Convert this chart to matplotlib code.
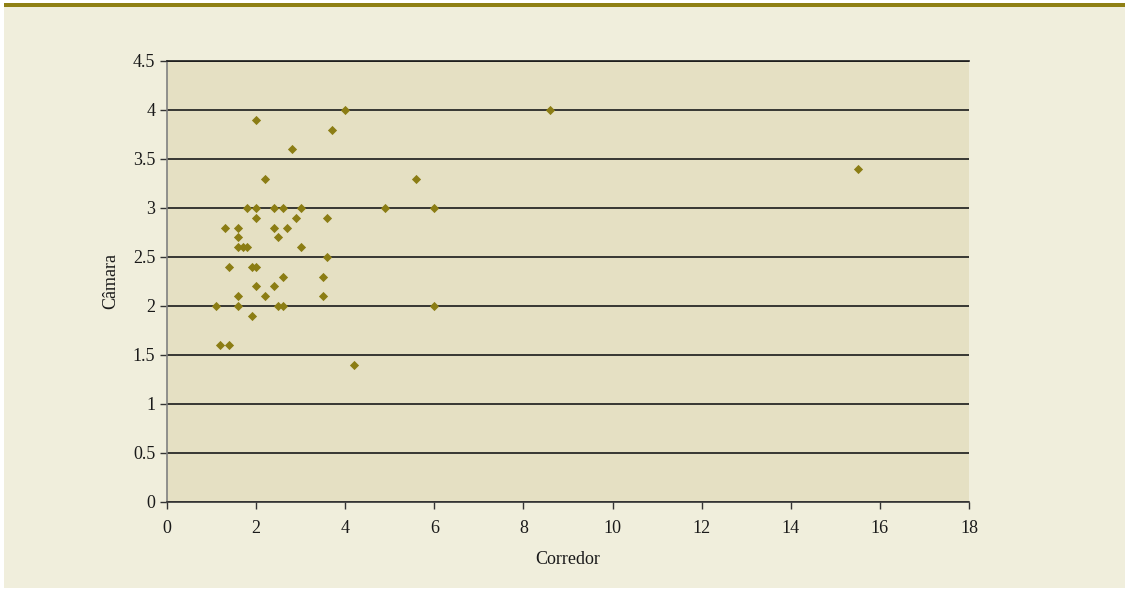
import matplotlib.pyplot as plt
from matplotlib.patches import Rectangle

# Corredor vs Câmara values
corredor = [
    2.0, 4.0, 3.7, 2.8, 2.2, 5.6, 8.6, 15.5,
    1.8, 2.0, 2.4, 2.6, 3.0, 4.9, 6.0,
    2.0, 2.9, 3.6,
    1.3, 1.6, 2.4, 2.7,
    1.6, 2.5,
    1.6, 1.7, 1.8, 3.0,
    3.6,
    1.4, 1.9, 2.0,
    2.6, 3.5,
    2.0, 2.4,
    1.6, 2.2, 3.5,
    1.1, 1.6, 2.5, 2.6, 6.0,
    1.9,
    1.2, 1.4,
    4.2,
]
camara = [
    3.9, 4.0, 3.8, 3.6, 3.3, 3.3, 4.0, 3.4,
    3.0, 3.0, 3.0, 3.0, 3.0, 3.0, 3.0,
    2.9, 2.9, 2.9,
    2.8, 2.8, 2.8, 2.8,
    2.7, 2.7,
    2.6, 2.6, 2.6, 2.6,
    2.5,
    2.4, 2.4, 2.4,
    2.3, 2.3,
    2.2, 2.2,
    2.1, 2.1, 2.1,
    2.0, 2.0, 2.0, 2.0, 2.0,
    1.9,
    1.6, 1.6,
    1.4,
]

x_ticks = [0, 2, 4, 6, 8, 10, 12, 14, 16, 18]
y_ticks = [0, 0.5, 1, 1.5, 2, 2.5, 3, 3.5, 4, 4.5]

plt.rcParams["font.family"] = ["Liberation Serif", "DejaVu Serif"]

fig = plt.figure(figsize=(11.25, 5.91), dpi=100, facecolor="white")

# cream panel with a thin white margin left/bottom, olive band on top
fig.patches.append(Rectangle((0.0036, 0.0051), 0.9964, 0.9898, transform=fig.transFigure,
                             facecolor="#f0eedc", edgecolor="none", zorder=-2))
fig.patches.append(Rectangle((0.0036, 0.9882), 0.9964, 0.0068, transform=fig.transFigure,
                             facecolor="#8f8014", edgecolor="none", zorder=-1))

ax = fig.add_axes([0.1484, 0.1506, 0.7129, 0.7462])
ax.set_zorder(1)
ax.set_facecolor("#e5e0c3")

ax.scatter(corredor, camara, marker="D", s=22, color="#8b7d14", zorder=3, linewidths=0)

ax.set_xlim(0, 18)
ax.set_ylim(0, 4.5)
ax.set_xticks(x_ticks)
ax.set_yticks(y_ticks)
ax.set_yticklabels([f"{v:g}" for v in y_ticks])

ax.yaxis.grid(True, color="#1a1a1a", linewidth=1.2)
ax.set_axisbelow(True)

ax.spines["right"].set_visible(False)
ax.spines["top"].set_color("#1a1a1a")
ax.spines["top"].set_linewidth(1.2)
ax.spines["left"].set_color("#808080")
ax.spines["left"].set_linewidth(1.2)
ax.spines["bottom"].set_color("#333333")
ax.spines["bottom"].set_linewidth(1.2)

ax.tick_params(axis="both", direction="out", length=5, width=1, color="#333333",
               labelsize=13, labelcolor="#1a1a1a")
ax.tick_params(axis="x", pad=8)

ax.set_xlabel("Corredor", fontsize=13, color="#1a1a1a", labelpad=10)
ax.set_ylabel("Câmara", fontsize=13, color="#1a1a1a", labelpad=10)

plt.savefig("out.png", dpi=100, facecolor=fig.get_facecolor())
plt.close()
